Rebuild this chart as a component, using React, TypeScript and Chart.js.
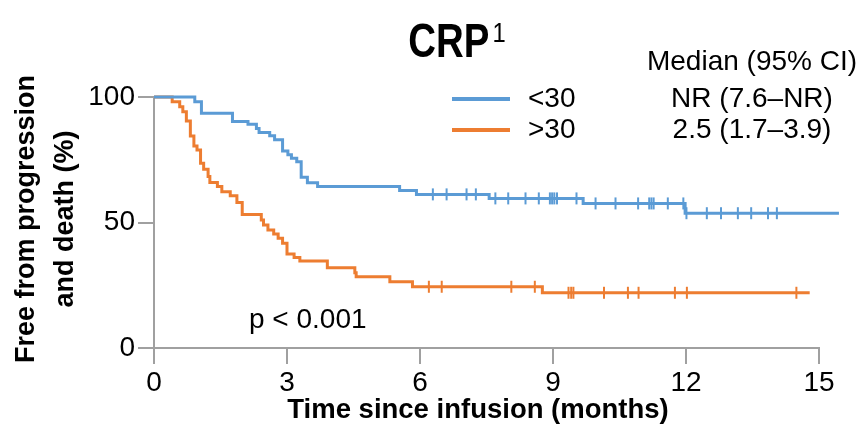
import React, { useEffect, useRef } from "react";
import { Chart, registerables } from "chart.js";

Chart.register(...registerables);

// ---- Data ----
const blueTimes = [0, 0.92, 1.07, 1.77, 2.12, 2.31, 2.37, 2.61, 2.72, 2.90, 3.02, 3.10, 3.22, 3.32, 3.46, 3.69, 5.54, 5.92, 7.56, 9.68, 11.98, 15.45];
const blueSurv = [100, 98.1, 93.5, 90.2, 89.1, 87.5, 85.9, 84.6, 83.0, 78.5, 77.0, 75.6, 74.2, 68.0, 65.8, 64.3, 62.7, 61.2, 59.6, 57.6, 53.7, 53.7];
const blueCensor = [6.29, 6.60, 7.05, 7.26, 7.70, 7.99, 8.38, 8.68, 8.93, 8.98, 9.03, 9.09, 9.53, 9.96, 10.41, 10.92, 11.17, 11.22, 11.27, 11.59, 11.94, 12.01, 12.47, 12.79, 13.17, 13.47, 13.85, 14.05, 15.25];

const orangeTimes = [0, 0.41, 0.58, 0.65, 0.73, 0.82, 0.90, 0.97, 1.05, 1.12, 1.22, 1.26, 1.43, 1.53, 1.72, 1.87, 1.99, 2.42, 2.47, 2.57, 2.70, 2.80, 2.90, 3.00, 3.16, 3.29, 3.91, 4.53, 4.56, 5.32, 5.83, 8.76, 14.79];
const orangeSurv = [100, 98.1, 96.1, 94.1, 90.4, 84.5, 80.5, 78.9, 73.6, 71.2, 68.3, 65.9, 64.3, 62.3, 60.7, 58.0, 53.2, 51.0, 49.0, 47.0, 45.4, 43.7, 41.7, 37.5, 36.1, 34.7, 32.0, 30.0, 28.4, 26.4, 24.4, 22.0, 22.0];
const orangeCensor = [6.20, 6.49, 8.06, 8.59, 9.35, 9.41, 9.46, 10.15, 10.69, 10.93, 11.75, 12.02, 14.49];

const xTicks = [0, 3, 6, 9, 12, 15];
const yTicks = [0, 50, 100];

const groupLabels = ["<30", ">30"];
const medianLabels = ["NR (7.6\u2013NR)", "2.5 (1.7\u20133.9)"];
const medianHeader = "Median (95% CI)";
const pValueText = "p < 0.001";
const titleMain = "CRP";
const titleSup = "1";
const xTitle = "Time since infusion (months)";
const yTitleLines = ["Free from progression", "and death (%)"];

const BLUE = "#5B9BD5";
const ORANGE = "#ED7D31";
const AXIS = "#A0A0A0";
const FONT = '"Liberation Sans", Arial, sans-serif';

function stepValue(times: number[], surv: number[], t: number) {
  let v = surv[0];
  for (let i = 0; i < times.length; i++) {
    if (times[i] <= t) v = surv[i];
  }
  return v;
}

const textPlugin = {
  id: "customText",
  afterDraw(chart: any) {
    const ctx = chart.ctx as CanvasRenderingContext2D;
    ctx.save();
    ctx.fillStyle = "#000";

    // Title (condensed bold to mimic the original narrow face)
    const sxScale = 0.8;
    ctx.font = `bold 48px ${FONT}`;
    const wMain = ctx.measureText(titleMain).width * sxScale;
    ctx.font = `28px ${FONT}`;
    const wSup = ctx.measureText(titleSup).width * 0.85;
    const total = wMain + 3 + wSup;
    const sx = 457 - total / 2;
    ctx.textAlign = "left";
    ctx.textBaseline = "alphabetic";
    ctx.save();
    ctx.translate(sx, 57);
    ctx.scale(sxScale, 1);
    ctx.font = `bold 48px ${FONT}`;
    ctx.fillText(titleMain, 0, 0);
    ctx.restore();
    ctx.save();
    ctx.translate(sx + wMain + 3, 42);
    ctx.scale(0.85, 1);
    ctx.font = `28px ${FONT}`;
    ctx.fillText(titleSup, 0, 0);
    ctx.restore();

    // Legend
    ctx.font = `28px ${FONT}`;
    ctx.textBaseline = "middle";
    ctx.textAlign = "center";
    ctx.fillText(medianHeader, 752, 62);
    const legY = [99, 130];
    const cols = [BLUE, ORANGE];
    for (let i = 0; i < 2; i++) {
      ctx.strokeStyle = cols[i];
      ctx.lineWidth = 4;
      ctx.beginPath();
      ctx.moveTo(452, legY[i]);
      ctx.lineTo(510, legY[i]);
      ctx.stroke();
      ctx.textAlign = "left";
      ctx.fillText(groupLabels[i], 528, legY[i]);
      ctx.textAlign = "center";
      ctx.fillText(medianLabels[i], 752, legY[i]);
    }

    // p-value
    ctx.textAlign = "left";
    ctx.fillText(pValueText, 249, 320);

    // X title
    ctx.font = `bold 27.5px ${FONT}`;
    ctx.textAlign = "center";
    ctx.fillText(xTitle, 478, 410);

    // Y title
    ctx.save();
    ctx.translate(0, 219);
    ctx.rotate(-Math.PI / 2);
    ctx.font = `bold 27px ${FONT}`;
    ctx.textAlign = "center";
    ctx.fillText(yTitleLines[0], 0, 27);
    ctx.fillText(yTitleLines[1], 0, 66);
    ctx.restore();

    ctx.restore();
  },
};

export default function App() {
  const ref = useRef<HTMLCanvasElement | null>(null);

  useEffect(() => {
    if (!ref.current) return;
    const blueLine = blueTimes.map((t, i) => ({ x: t, y: blueSurv[i] }));
    const orangeLine = orangeTimes.map((t, i) => ({ x: t, y: orangeSurv[i] }));
    const blueMarks = blueCensor.map((t) => ({ x: t, y: stepValue(blueTimes, blueSurv, t) }));
    const orangeMarks = orangeCensor.map((t) => ({ x: t, y: stepValue(orangeTimes, orangeSurv, t) }));

    const censorStyle = {
      type: "scatter" as const,
      showLine: false,
      pointStyle: "line" as const,
      rotation: 90,
      pointRadius: 6,
      pointBorderWidth: 2,
      clip: false as any,
    };

    const chart = new Chart(ref.current, {
      type: "line",
      data: {
        datasets: [
          {
            data: blueLine,
            borderColor: BLUE,
            borderWidth: 3,
            stepped: "before",
            pointRadius: 0,
            fill: false,
            clip: false as any,
          },
          {
            data: orangeLine,
            borderColor: ORANGE,
            borderWidth: 3,
            stepped: "before",
            pointRadius: 0,
            fill: false,
            clip: false as any,
          },
          { ...censorStyle, data: blueMarks, borderColor: BLUE, backgroundColor: BLUE } as any,
          { ...censorStyle, data: orangeMarks, borderColor: ORANGE, backgroundColor: ORANGE } as any,
        ],
      },
      options: {
        responsive: false,
        animation: false,
        layout: { padding: { left: 0, top: 97, right: 45, bottom: 0 } },
        plugins: {
          legend: { display: false },
          title: { display: false },
          tooltip: { enabled: false },
        },
        scales: {
          x: {
            type: "linear",
            min: 0,
            max: 15,
            afterFit: (s: any) => {
              s.height = 85;
            },
            afterBuildTicks: (s: any) => {
              s.ticks = xTicks.map((v) => ({ value: v }));
            },
            ticks: {
              font: { family: FONT, size: 28 },
              color: "#000",
              padding: 2,
              maxRotation: 0,
              autoSkip: false,
            },
            grid: {
              display: true,
              drawOnChartArea: false,
              drawTicks: true,
              tickLength: 16,
              color: AXIS,
              lineWidth: 2,
            },
            border: { display: true, color: AXIS, width: 2 },
          },
          y: {
            type: "linear",
            min: 0,
            max: 100,
            afterFit: (s: any) => {
              s.width = 154;
            },
            afterBuildTicks: (s: any) => {
              s.ticks = yTicks.map((v) => ({ value: v }));
            },
            ticks: {
              font: { family: FONT, size: 28 },
              color: "#000",
              padding: 3,
              autoSkip: false,
            },
            grid: {
              display: true,
              drawOnChartArea: false,
              drawTicks: true,
              tickLength: 16,
              color: AXIS,
              lineWidth: 2,
            },
            border: { display: true, color: AXIS, width: 2 },
          },
        },
      },
      plugins: [textPlugin],
    });
    return () => chart.destroy();
  }, []);

  return (
    <div style={{ position: "fixed", left: 0, top: 0, width: 864, height: 433, background: "#fff" }}>
      <canvas ref={ref} width={864} height={433} style={{ width: 864, height: 433, display: "block" }} />
    </div>
  );
}
